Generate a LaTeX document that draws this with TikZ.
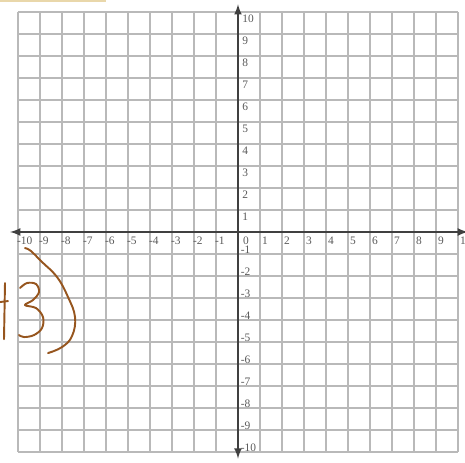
\documentclass[tikz,border=0pt]{standalone}
\usepackage{fontspec}
\setmainfont{Liberation Serif}
\usetikzlibrary{arrows}
\definecolor{pen}{RGB}{150,85,30}
\definecolor{tab}{RGB}{233,215,170}
\tikzset{gridline/.style={gray!55, line width=.6pt},
  axis/.style={black!75, line width=1pt},
  tick/.style={font=\fontsize{6.5}{7}\selectfont, text=black!65, inner sep=1pt},
  ink/.style={pen, line width=1.1pt, line cap=round, line join=round}}
\begin{document}
\begin{tikzpicture}[x=.44cm,y=.44cm]
\useasboundingbox (-10.818,-10.5) rectangle (10.318,10.545);
% strip at the top
\fill[tab] (-10.818,10.45) rectangle (-6,10.545);
% grid and axes
\foreach \k in {-10,...,10} {
  \draw[gridline] (\k,-10) -- (\k,10);
  \draw[gridline] (-10,\k) -- (10,\k);
}
\coordinate (xl) at (-10.36,0);
\coordinate (xr) at (10.45,0);
\coordinate (yb) at (0,-10.3);
\coordinate (yt) at (0,10.35);
\draw[axis,latex-latex] (xl) -- (xr);
\draw[axis,latex-latex] (yb) -- (yt);
\foreach \i in {1,...,10} {
  \node[tick,anchor=north west] (xp\i) at (\i,-0.15) {\i};
  \node[tick,anchor=north west] (xn\i) at (-\i-0.14,-0.15) {-\i};
  \node[tick,anchor=north west] (yp\i) at (0.1,\i-0.05) {\i};
  \node[tick,anchor=west] (yn\i) at (0.03,-\i+0.2) {-\i};
}
\node[tick,anchor=north west] (x0) at (0.14,-0.12) {0};
% handwriting
\begin{scope}[shift={(-10.818,10.545)},x=0.02cm,y=-0.02cm]
\draw[ink] plot[smooth,tension=.7] coordinates {(25,248) (31,251) (41,261) (57,277) (68,297) (75,317) (72,336) (62,347) (48,353)};
\draw[ink] plot[smooth,tension=.6] coordinates {(20,288) (27,283) (36,284) (39,292) (33,300) (25,305) (36,308) (43,317) (42,328) (34,335) (24,337) (19,335)};
\draw[ink] (5,283) -- (4,339);
\draw[ink] (0,302) -- (8,301);
\end{scope}
\end{tikzpicture}
\end{document}
